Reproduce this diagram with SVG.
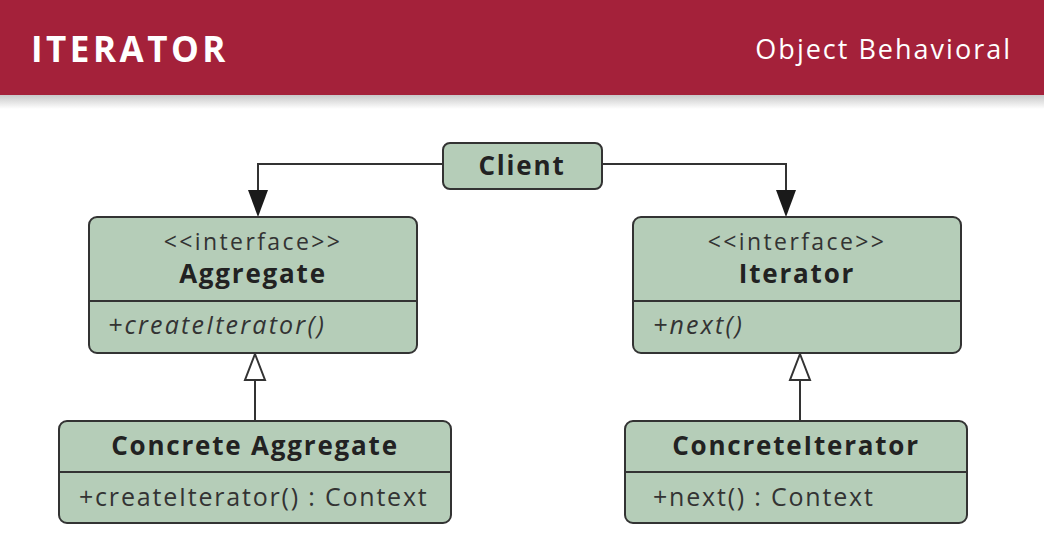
<svg xmlns="http://www.w3.org/2000/svg" width="1044" height="560" viewBox="0 0 1044 560">
<defs>
<linearGradient id="shadow" x1="0" y1="0" x2="0" y2="1">
<stop offset="0" stop-color="#c8c8c8"/>
<stop offset="1" stop-color="#ffffff"/>
</linearGradient>
</defs>
<style>
.box{fill:#b5cdb8;stroke:#333;stroke-width:2}
.div{stroke:#333;stroke-width:2}
.t{font-family:"Open Sans",Lato,"Liberation Sans",sans-serif;fill:#222}
.name{font-size:26px;font-weight:bold;text-anchor:middle;letter-spacing:1.8px}
.stereo{font-size:23px;text-anchor:middle;fill:#333;letter-spacing:2.4px}
.op{font-size:25px;fill:#333;letter-spacing:1.8px}
.it{font-style:italic;letter-spacing:2.2px}
.edge{fill:none;stroke:#333;stroke-width:2}
.head{fill:#1a1a1a}
.tri{fill:#fff;stroke:#333;stroke-width:2}
</style>
<rect x="0" y="0" width="1044" height="560" fill="#fff"/>
<rect x="0" y="95" width="1044" height="14" fill="url(#shadow)"/>
<g id="header">
<rect x="0" y="0" width="1044" height="95" fill="#a4213a"/>
<text x="31" y="62" font-family="'Open Sans',Lato,'Liberation Sans',sans-serif" font-size="35" font-weight="bold" letter-spacing="3.5" fill="#fff">ITERATOR</text>
<text x="1012" y="59" text-anchor="end" font-family="'Open Sans',Lato,'Liberation Sans',sans-serif" font-size="27" letter-spacing="2" fill="#fff">Object Behavioral</text>
</g>
<g id="connectors">
<path class="edge" d="M443,164 H258 V194"/>
<path class="head" d="M248,190 L268,190 L258,217 Z"/>
<path class="edge" d="M602,164 H786 V194"/>
<path class="head" d="M776,190 L796,190 L786,217 Z"/>
<line class="edge" x1="255" y1="421" x2="255" y2="380"/>
<path class="tri" d="M255,354 L265,380 L245,380 Z"/>
<line class="edge" x1="800" y1="421" x2="800" y2="380"/>
<path class="tri" d="M800,354 L810,380 L790,380 Z"/>
</g>
<g id="client">
<rect class="box" x="443" y="143" width="159" height="46" rx="7"/>
<text class="t name" x="522" y="175">Client</text>
</g>
<g id="aggregate">
<rect class="box" x="89" y="217" width="328" height="136" rx="8"/>
<line class="div" x1="89" y1="301" x2="417" y2="301"/>
<text class="t stereo" x="253" y="250">&lt;&lt;interface&gt;&gt;</text>
<text class="t name" x="253" y="283">Aggregate</text>
<text class="t op it" x="108" y="334">+createIterator()</text>
</g>
<g id="iterator">
<rect class="box" x="633" y="217" width="328" height="136" rx="8"/>
<line class="div" x1="633" y1="301" x2="961" y2="301"/>
<text class="t stereo" x="797" y="250">&lt;&lt;interface&gt;&gt;</text>
<text class="t name" x="797" y="283">Iterator</text>
<text class="t op it" x="653" y="334">+next()</text>
</g>
<g id="concreteAggregate">
<rect class="box" x="59" y="421" width="392" height="102" rx="8"/>
<line class="div" x1="59" y1="472" x2="451" y2="472"/>
<text class="t name" x="255" y="455">Concrete Aggregate</text>
<text class="t op" x="79" y="506">+createIterator() : Context</text>
</g>
<g id="concreteIterator">
<rect class="box" x="625" y="421" width="342" height="102" rx="8"/>
<line class="div" x1="625" y1="472" x2="967" y2="472"/>
<text class="t name" x="796" y="455">ConcreteIterator</text>
<text class="t op" x="653" y="506">+next() : Context</text>
</g>
</svg>
